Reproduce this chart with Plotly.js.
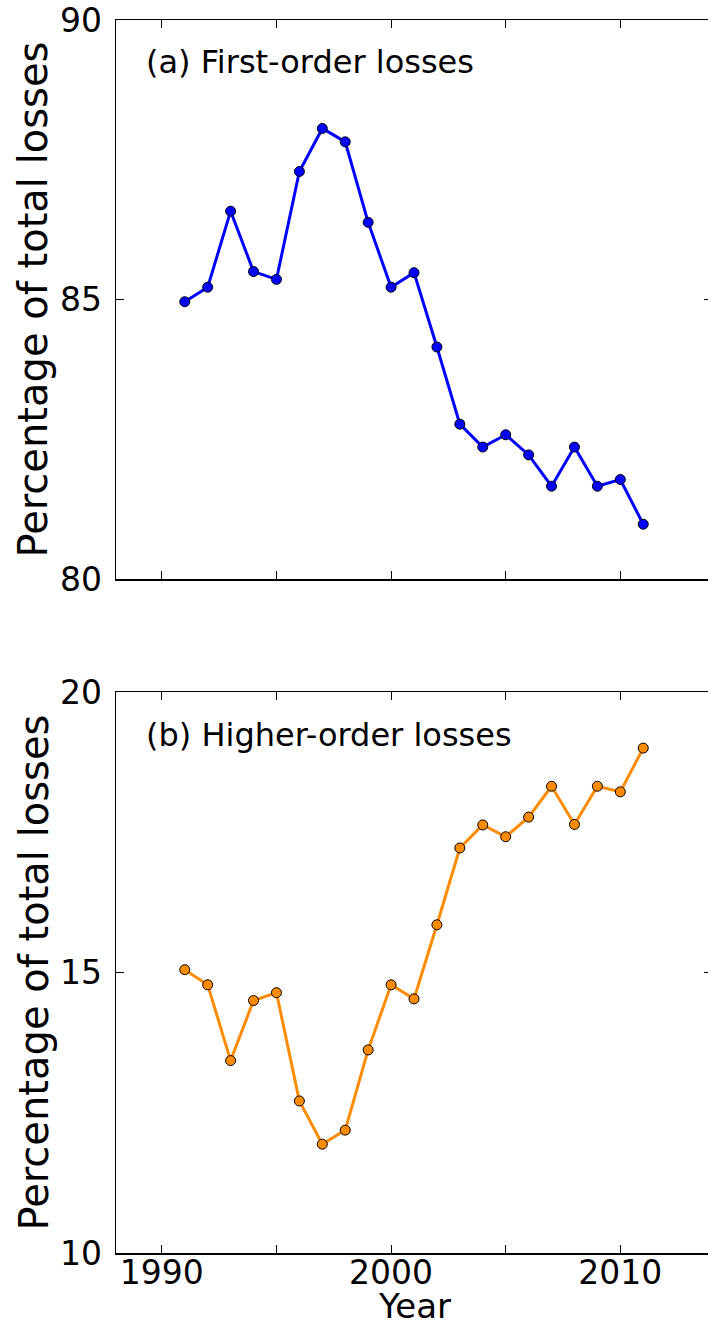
<!DOCTYPE html>
<html>
<head>
<meta charset="utf-8">
<script src="https://cdn.plot.ly/plotly-3.0.1.min.js"></script>
<style>
  html, body { margin: 0; padding: 0; background: #fff; overflow: hidden; }
  #chart { width: 720px; height: 1327px; }
</style>
</head>
<body>
<div id="chart"></div>
<script>
// Share of total losses by year: first-order vs higher-order
const years = [1991, 1992, 1993, 1994, 1995, 1996, 1997, 1998, 1999, 2000,
               2001, 2002, 2003, 2004, 2005, 2006, 2007, 2008, 2009, 2010, 2011];
const firstOrder = [84.96, 85.22, 86.58, 85.50, 85.36, 87.29, 88.06, 87.82, 86.38, 85.22,
                    85.48, 84.15, 82.77, 82.36, 82.58, 82.22, 81.66, 82.36, 81.66, 81.78, 80.98];
const higherOrder = [15.05, 14.78, 13.43, 14.50, 14.64, 12.71, 11.94, 12.19, 13.62, 14.78,
                     14.53, 15.85, 17.22, 17.63, 17.42, 17.77, 18.32, 17.64, 18.32, 18.22, 19.00];

const xTickVals = [1990, 1995, 2000, 2005, 2010];
const xTickText = ['1990', '', '2000', '', '2010'];
const topYTicks = [80, 85, 90];
const bottomYTicks = [10, 15, 20];

const panelLabels = ['(a) First-order losses', '(b) Higher-order losses'];
const yTitle = 'Percentage of total losses';
const xTitle = 'Year';

const FONT = 'DejaVu Sans, Liberation Sans, sans-serif';
const W = 720, H = 1327;
const M = { l: 116, r: 8, t: 20, b: 74 };
const plotH = H - M.t - M.b;
// convert page-pixel positions into paper coordinates
const py = (y) => (H - M.b - y) / plotH;
const px = (x) => (x - M.l) / (W - M.l - M.r);

const traces = [
  {
    x: years, y: firstOrder, xaxis: 'x', yaxis: 'y',
    type: 'scatter', mode: 'lines+markers',
    line: { color: '#0000ff', width: 3 },
    marker: { color: '#0000ff', size: 10, line: { color: '#000', width: 1 } },
    hoverinfo: 'skip'
  },
  {
    x: years, y: higherOrder, xaxis: 'x2', yaxis: 'y2',
    type: 'scatter', mode: 'lines+markers',
    line: { color: '#ff8c00', width: 3 },
    marker: { color: '#ff8c00', size: 10, line: { color: '#000', width: 1 } },
    hoverinfo: 'skip'
  }
];

const axisCommon = {
  showline: true, linecolor: '#000', linewidth: 1.5, mirror: 'ticks',
  ticks: 'inside', ticklen: 8, tickwidth: 1, tickcolor: '#000',
  showgrid: false, zeroline: false, fixedrange: true,
  tickfont: { family: FONT, size: 33, color: '#000' }
};

const layout = {
  width: W, height: H,
  margin: M,
  paper_bgcolor: '#fff', plot_bgcolor: '#fff',
  showlegend: false,
  font: { family: FONT, color: '#000' },
  xaxis: Object.assign({}, axisCommon, {
    domain: [0, 1], anchor: 'y', range: [1988, 2014],
    tickmode: 'array', tickvals: xTickVals, ticktext: xTickText,
    showticklabels: false
  }),
  yaxis: Object.assign({}, axisCommon, {
    domain: [py(579), 1], anchor: 'x', range: [80, 90],
    tickmode: 'array', tickvals: topYTicks, ticklabelstandoff: 6
  }),
  xaxis2: Object.assign({}, axisCommon, {
    domain: [0, 1], anchor: 'y2', range: [1988, 2014],
    tickmode: 'array', tickvals: xTickVals, ticktext: xTickText,
    ticklabelstandoff: -10
  }),
  yaxis2: Object.assign({}, axisCommon, {
    domain: [0, py(692)], anchor: 'x2', range: [10, 20],
    tickmode: 'array', tickvals: bottomYTicks, ticklabelstandoff: 6
  }),
  annotations: [
    { text: panelLabels[0], xref: 'paper', yref: 'paper', x: px(144), y: py(62),
      xanchor: 'left', yanchor: 'middle', showarrow: false,
      font: { family: FONT, size: 32, color: '#000' } },
    { text: panelLabels[1], xref: 'paper', yref: 'paper', x: px(144), y: py(735),
      xanchor: 'left', yanchor: 'middle', showarrow: false,
      font: { family: FONT, size: 32, color: '#000' } },
    { text: yTitle, xref: 'paper', yref: 'paper', x: px(33), y: py(299.5),
      xanchor: 'center', yanchor: 'middle', textangle: -90, showarrow: false,
      font: { family: FONT, size: 40, color: '#000' } },
    { text: yTitle, xref: 'paper', yref: 'paper', x: px(33), y: py(972.5),
      xanchor: 'center', yanchor: 'middle', textangle: -90, showarrow: false,
      font: { family: FONT, size: 40, color: '#000' } },
    { text: xTitle, xref: 'paper', yref: 'paper', x: 0.5, y: py(1306),
      xanchor: 'center', yanchor: 'middle', showarrow: false, borderpad: 0,
      font: { family: FONT, size: 34, color: '#000' } }
  ]
};

Plotly.newPlot('chart', traces, layout, { staticPlot: true, displayModeBar: false });
</script>
</body>
</html>
